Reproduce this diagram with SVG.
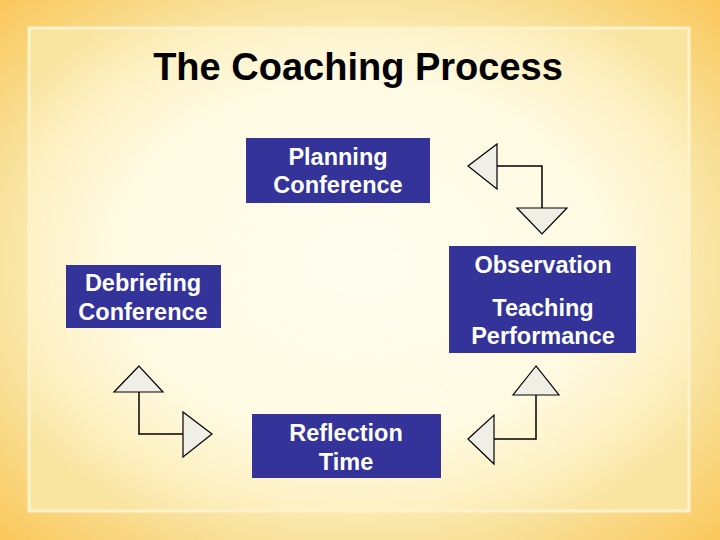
<svg xmlns="http://www.w3.org/2000/svg" width="720" height="540" viewBox="0 0 720 540">
  <defs>
    <radialGradient id="bgOuter" cx="50%" cy="50%" r="72%">
      <stop offset="0" stop-color="#fffbe6"/>
      <stop offset="0.55" stop-color="#fdf0bf"/>
      <stop offset="0.72" stop-color="#f8e19a"/>
      <stop offset="1" stop-color="#fbc556"/>
    </radialGradient>
    <radialGradient id="bgInner" cx="50%" cy="48%" r="62%">
      <stop offset="0" stop-color="#fffdf0"/>
      <stop offset="0.6" stop-color="#fffae2"/>
      <stop offset="0.85" stop-color="#fdf0c0"/>
      <stop offset="1" stop-color="#f9e4a0"/>
    </radialGradient>
    <style>
      .box { fill: #333399; }
      .lbl { font-family: "Liberation Sans", Arial, sans-serif; font-weight: bold; font-size: 23.5px; fill: #ffffff; text-anchor: middle; }
      .title { font-family: "Liberation Sans", Arial, sans-serif; font-weight: bold; font-size: 38px; fill: #000000; text-anchor: middle; }
      .tri { fill: #efefe6; stroke: #000000; stroke-width: 1.2; stroke-linejoin: miter; }
      .ln { fill: none; stroke: #000000; stroke-width: 1.5; }
    </style>
  </defs>

  <rect x="0" y="0" width="720" height="540" fill="url(#bgOuter)"/>
  <rect x="29" y="28" width="660" height="483" fill="url(#bgInner)" stroke="#fdf3cb" stroke-width="3"/>

  <text class="title" x="358" y="80">The Coaching Process</text>

  <g id="planning">
    <rect class="box" x="246" y="138" width="184" height="65"/>
    <text class="lbl" x="338" y="165">Planning</text>
    <text class="lbl" x="338" y="193">Conference</text>
  </g>

  <g id="observation">
    <rect class="box" x="449" y="246" width="187" height="107"/>
    <text class="lbl" x="543" y="273">Observation</text>
    <text class="lbl" x="543" y="316">Teaching</text>
    <text class="lbl" x="543" y="344">Performance</text>
  </g>

  <g id="debriefing">
    <rect class="box" x="66" y="265" width="155" height="63"/>
    <text class="lbl" x="143" y="291">Debriefing</text>
    <text class="lbl" x="143" y="320">Conference</text>
  </g>

  <g id="reflection">
    <rect class="box" x="252" y="414" width="189" height="64"/>
    <text class="lbl" x="346" y="441">Reflection</text>
    <text class="lbl" x="346" y="470">Time</text>
  </g>

  <g id="connectors">
    <!-- top right -->
    <polyline class="ln" points="497,166 542,166 542,208"/>
    <polygon class="tri" points="468,166 497,144 497,189"/>
    <polygon class="tri" points="517,208 567,208 542,234"/>
    <!-- bottom right -->
    <polyline class="ln" points="536,395 536,439 494,439"/>
    <polygon class="tri" points="536,366 513,395 559,395"/>
    <polygon class="tri" points="468,439 494,415 494,464"/>
    <!-- bottom left -->
    <polyline class="ln" points="139,392 139,434 183,434"/>
    <polygon class="tri" points="139,366 114,392 163,392"/>
    <polygon class="tri" points="212,434 183,412 183,457"/>
  </g>
</svg>
